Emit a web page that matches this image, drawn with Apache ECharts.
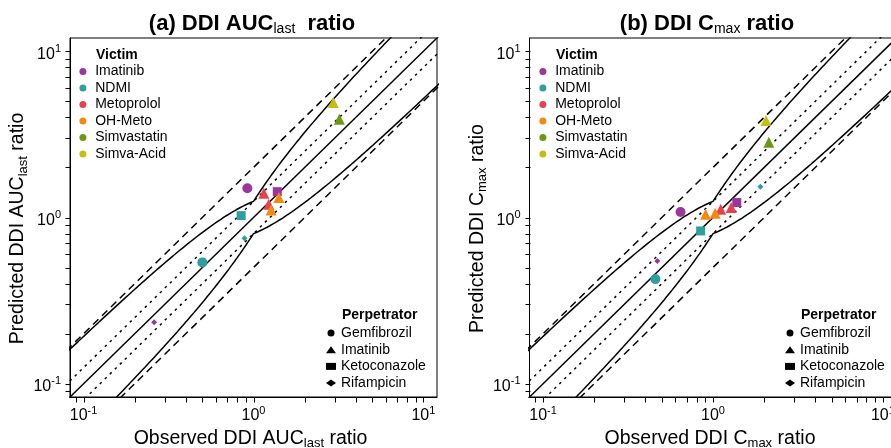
<!DOCTYPE html>
<html><head><meta charset="utf-8">
<script src="https://cdn.jsdelivr.net/npm/echarts@6/dist/echarts.min.js"></script>
<style>html,body{margin:0;padding:0;background:#fff}#c{width:891px;height:448px}</style>
</head><body><div id="c"></div>
<script>
// ---------- data ----------
const victims = ['Imatinib', 'NDMI', 'Metoprolol', 'OH-Meto', 'Simvastatin', 'Simva-Acid'];
const victimColors = ['#9B379C', '#2F9E9E', '#E8414D', '#F28A12', '#6B9A12', '#C4BD14'];
const perpetrators = ['Gemfibrozil', 'Imatinib', 'Ketoconazole', 'Rifampicin'];
const perpSymbols = ['circle', 'triangle', 'rect', 'diamond'];
const perpSizes = [10, 11, 9, 6];

// (a) AUClast
const aucVictim = ['Imatinib', 'Metoprolol', 'Imatinib', 'OH-Meto', 'Metoprolol', 'OH-Meto', 'NDMI', 'NDMI', 'NDMI', 'Imatinib', 'Simva-Acid', 'Simvastatin'];
const aucPerp = ['Gemfibrozil', 'Imatinib', 'Ketoconazole', 'Imatinib', 'Imatinib', 'Imatinib', 'Ketoconazole', 'Rifampicin', 'Gemfibrozil', 'Rifampicin', 'Imatinib', 'Imatinib'];
const aucObs = [0.92, 1.15, 1.38, 1.41, 1.23, 1.27, 0.846, 0.885, 0.50, 0.26, 2.95, 3.2];
const aucPred = [1.50, 1.40, 1.43, 1.32, 1.20, 1.11, 1.026, 0.75, 0.537, 0.234, 4.92, 3.9];

// (b) Cmax
const cmaxVictim = ['Simva-Acid', 'Simvastatin', 'NDMI', 'Imatinib', 'Metoprolol', 'Metoprolol', 'OH-Meto', 'OH-Meto', 'Imatinib', 'NDMI', 'NDMI', 'Imatinib'];
const cmaxPerp = ['Imatinib', 'Imatinib', 'Rifampicin', 'Ketoconazole', 'Imatinib', 'Imatinib', 'Imatinib', 'Imatinib', 'Gemfibrozil', 'Ketoconazole', 'Gemfibrozil', 'Rifampicin'];
const cmaxObs = [2.05, 2.13, 1.90, 1.38, 1.28, 1.11, 1.03, 0.905, 0.644, 0.846, 0.458, 0.47];
const cmaxPred = [3.83, 2.84, 1.53, 1.23, 1.15, 1.12, 1.06, 1.045, 1.08, 0.83, 0.426, 0.547];

// reference limits
const twoFold = 2;
const smallFold = 1.25;
const guestDelta = 1.25;

// axis ticks / labels
const tickValues = [0.09, 0.1, 0.2, 0.3, 0.4, 0.5, 0.6, 0.7, 0.8, 0.9, 1, 2, 3, 4, 5, 6, 7, 8, 9, 10];
const labelValues = [0.1, 1, 10];
const labelExps = ['-1', '0', '1'];

// ---------- helpers ----------
const FONT = 'Liberation Sans, Arial, sans-serif';
const AX_MIN = Math.pow(10, -1.08), AX_MAX = Math.pow(10, 1.08);
const lineXs = [0.03, 30];

function addGuest(r, up, lo) {
  const rr = r >= 1 ? r : 1 / r;
  const lim = (guestDelta + 2 * (rr - 1)) / rr;
  up.push([r, r * lim]); lo.push([r, r / lim]);
}
function guestCurves() {
  const up = [], lo = [];
  const n = 200;
  for (let i = 0; i <= n; i++) addGuest(Math.pow(10, -1.6 + 3.2 * i / n), up, lo);
  addGuest(1, up, lo);
  up.sort((a, b) => a[0] - b[0]); lo.sort((a, b) => a[0] - b[0]);
  return [up, lo];
}

function refSeries(idx) {
  const base = { type: 'line', xAxisIndex: idx, yAxisIndex: idx, symbol: 'none', silent: true, clip: true, z: 2 };
  const mk = (k, type) => Object.assign({}, base, { data: lineXs.map(x => [x, x * k]), lineStyle: { color: '#000', width: 1.5, type: type } });
  const [up, lo] = guestCurves();
  return [
    mk(1, 'solid'),
    mk(smallFold, [2.5, 4.5]), mk(1 / smallFold, [2.5, 4.5]),
    mk(twoFold, [7.5, 5]), mk(1 / twoFold, [7.5, 5]),
    Object.assign({}, base, { data: up, lineStyle: { color: '#000', width: 1.5 } }),
    Object.assign({}, base, { data: lo, lineStyle: { color: '#000', width: 1.5 } })
  ];
}

function pointSeries(idx, vic, per, obs, pred) {
  const data = obs.map((x, i) => {
    const pi = perpetrators.indexOf(per[i]);
    return {
      value: [x, pred[i]],
      symbol: perpSymbols[pi],
      symbolSize: perpSizes[pi],
      itemStyle: { color: victimColors[victims.indexOf(vic[i])], opacity: 1 }
    };
  });
  return { type: 'scatter', xAxisIndex: idx, yAxisIndex: idx, data: data, silent: true, z: 5, itemStyle: { opacity: 1 } };
}

// axis tick marks drawn through the axis scales
function tickSeries(idx, isX) {
  return {
    type: 'custom', coordinateSystem: 'cartesian2d', xAxisIndex: idx, yAxisIndex: idx,
    silent: true, clip: false, z: 3,
    data: tickValues.map(v => isX ? [v, AX_MIN] : [AX_MIN, v]),
    renderItem: (params, api) => {
      const p = api.coord([api.value(0), api.value(1)]);
      const x = Math.round(p[0]) + 0.5, y = Math.round(p[1]) + 0.5;
      const shape = isX ? { x1: x, y1: y, x2: x, y2: y + 5 } : { x1: x - 5, y1: y, x2: x, y2: y };
      return { type: 'line', shape: shape, style: { stroke: '#000', lineWidth: 1 } };
    }
  };
}

const tickRich = {
  b: { fontSize: 16, lineHeight: 22, fontFamily: FONT, color: '#000' },
  e: { fontSize: 11, lineHeight: 11, verticalAlign: 'top', fontFamily: FONT, color: '#000' }
};
function tickFmt(v) {
  const i = labelValues.findIndex(t => Math.abs(t - v) / t < 1e-6);
  return i < 0 ? '' : '{b|10}{e|' + labelExps[i] + '}';
}
const nameRich = {
  n: { fontSize: 19.5, lineHeight: 23, fontFamily: FONT, color: '#000' },
  s: { fontSize: 13, lineHeight: 12, verticalAlign: 'bottom', fontFamily: FONT, color: '#000' }
};

function xAxis(idx, name) {
  return {
    type: 'log', logBase: 10, gridIndex: idx, min: AX_MIN, max: AX_MAX,
    axisLine: { show: true, onZero: false, lineStyle: { color: '#000', width: 1 } },
    axisTick: { show: false },
    axisLabel: { show: true, margin: 8, customValues: labelValues, formatter: tickFmt, rich: tickRich, hideOverlap: false },
    splitLine: { show: false }, minorTick: { show: false },
    name: name, nameLocation: 'middle', nameGap: 29,
    nameTextStyle: { rich: nameRich, padding: [0, 6, 0, 0] }
  };
}
function yAxis(idx, name) {
  return {
    type: 'log', logBase: 10, gridIndex: idx, min: AX_MIN, max: AX_MAX,
    axisLine: { show: true, onZero: false, lineStyle: { color: '#000', width: 1 } },
    axisTick: { show: false },
    axisLabel: { show: true, margin: 9, padding: [6, 0, 0, 0], customValues: labelValues, formatter: tickFmt, rich: tickRich, hideOverlap: false },
    splitLine: { show: false }, minorTick: { show: false },
    name: name, nameLocation: 'middle', nameGap: 36, nameRotate: 90,
    nameTextStyle: { rich: nameRich, padding: [0, 22, 0, 0] }
  };
}

// legend dummy series
const legendSeries = [];
victims.forEach((v, i) => legendSeries.push({ type: 'scatter', name: v, data: [], symbol: 'circle', itemStyle: { color: victimColors[i], opacity: 1 } }));
perpetrators.forEach((p, i) => legendSeries.push({ type: 'scatter', name: 'P:' + p, data: [], symbol: perpSymbols[i], itemStyle: { color: '#000', opacity: 1 } }));

const legendText = { fontSize: 14, lineHeight: 16, fontFamily: FONT, color: '#000' };
function victimLegend(left) {
  return {
    orient: 'vertical', left: left, top: 63.5, itemWidth: 14.6, itemHeight: 7, itemGap: 0.5,
    selectedMode: false, padding: 0,
    data: victims.map(v => ({ name: v, icon: 'circle' })),
    textStyle: legendText
  };
}
function perpLegend(left) {
  return {
    orient: 'vertical', left: left, top: 325, itemWidth: 10, itemHeight: 7, itemGap: 0.7,
    selectedMode: false, padding: 0,
    data: perpetrators.map((p, i) => ({ name: 'P:' + p, icon: perpSymbols[i] })),
    formatter: n => n.replace(/^P:/, ''),
    textStyle: legendText
  };
}

const titleRich = {
  b: { fontSize: 22, fontWeight: 'bold', lineHeight: 25, fontFamily: FONT, fill: '#000' },
  s: { fontSize: 14, lineHeight: 14, verticalAlign: 'bottom', fontFamily: FONT, fill: '#000' }
};
function txt(x, y, text, opts) {
  return { type: 'text', x: x, y: y, silent: true, style: Object.assign({ text: text, fill: '#000', fontFamily: FONT, verticalAlign: 'middle' }, opts) };
}

const gridBase = { top: 38, bottom: 51, width: 367, show: true, borderColor: '#000', borderWidth: 1, backgroundColor: 'transparent', containLabel: false, outerBoundsMode: 'none' };

const option = {
  animation: false,
  backgroundColor: '#fff',
  textStyle: { fontFamily: FONT },
  grid: [
    Object.assign({ left: 70 }, gridBase),
    Object.assign({ left: 529.5 }, gridBase)
  ],
  xAxis: [xAxis(0, '{n|Observed DDI AUC}{s|last}{n| ratio}'), xAxis(1, '{n|Observed DDI C}{s|max}{n| ratio}')],
  yAxis: [yAxis(0, '{n|Predicted DDI AUC}{s|last}{n| ratio}'), yAxis(1, '{n|Predicted DDI C}{s|max}{n| ratio}')],
  legend: [victimLegend(79.4), perpLegend(326), victimLegend(539.4), perpLegend(785)],
  graphic: [
    txt(252, 24, '{b|(a) DDI AUC}{s|last}{b|  ratio}', { align: 'center', rich: titleRich }),
    txt(707, 24, '{b|(b) DDI C}{s|max}{b| ratio}', { align: 'center', rich: titleRich }),
    txt(96, 55.5, 'Victim', { fontSize: 14, fontWeight: 'bold' }),
    txt(556, 55.5, 'Victim', { fontSize: 14, fontWeight: 'bold' }),
    txt(342, 315, 'Perpetrator', { fontSize: 14, fontWeight: 'bold' }),
    txt(801, 315, 'Perpetrator', { fontSize: 14, fontWeight: 'bold' })
  ],
  series: [].concat(
    refSeries(0), refSeries(1),
    [tickSeries(0, true), tickSeries(0, false), tickSeries(1, true), tickSeries(1, false)],
    [pointSeries(0, aucVictim, aucPerp, aucObs, aucPred), pointSeries(1, cmaxVictim, cmaxPerp, cmaxObs, cmaxPred)],
    legendSeries
  )
};

const chart = echarts.init(document.getElementById('c'), null, { renderer: 'canvas' });
chart.setOption(option);
</script></body></html>
